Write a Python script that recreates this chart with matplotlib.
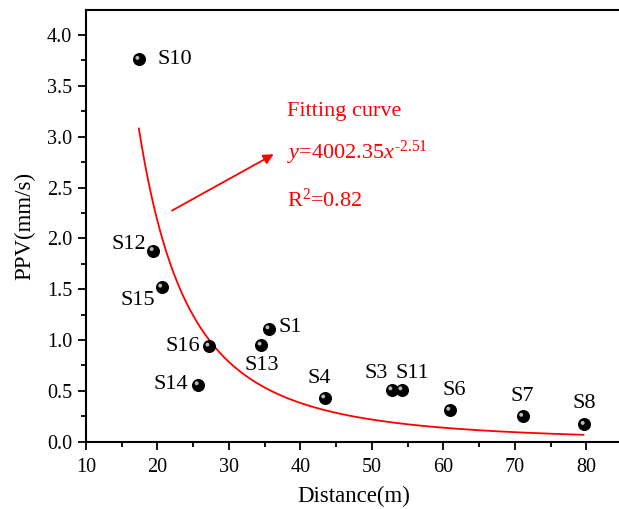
#!/usr/bin/env python3

import numpy as np
import matplotlib.pyplot as plt
import matplotlib.transforms as mtransforms
from matplotlib.ticker import MultipleLocator

plt.rcParams[ 'font.family' ] = 'Liberation Serif'
plt.rcParams[ 'mathtext.fontset' ] = 'custom'
plt.rcParams[ 'mathtext.rm' ] = 'Liberation Serif'
plt.rcParams[ 'mathtext.it' ] = 'Liberation Serif:italic'

# measuring points
names    = [ 'S10', 'S12', 'S15', 'S16', 'S14', 'S13', 'S1',
             'S4', 'S3', 'S11', 'S6', 'S7', 'S8' ]
distance = [ 17.4, 19.4, 20.6, 27.2, 25.7, 34.5, 35.6,
             43.4, 52.8, 54.2, 60.9, 71.1, 79.7 ]
ppv      = [ 3.76, 1.88, 1.52, 0.94, 0.56, 0.95, 1.11,
             0.43, 0.51, 0.51, 0.31, 0.25, 0.17 ]

# fitted power law  y = a * x^b
fitA = 4002.35
fitB = -2.51
fitR2 = 0.82
fitRange = ( 17.4, 79.6 )

# label offsets in pixels ( dx, dy, ha )
labOff = { 'S10' : (  19,   0, 'left'   ),
           'S12' : (  -7,   6, 'right'  ),
           'S15' : (  -7, -13, 'right'  ),
           'S16' : (  -9,   0, 'right'  ),
           'S14' : ( -10,   0, 'right'  ),
           'S13' : (   1, -20, 'center' ),
           'S1'  : (  10,   1, 'left'   ),
           'S4'  : (  -5,  19, 'center' ),
           'S3'  : ( -16,  16, 'center' ),
           'S11' : (  10,  16, 'center' ),
           'S6'  : (   4,  20, 'center' ),
           'S7'  : (   0,  20, 'center' ),
           'S8'  : (   0,  21, 'center' ) }

fig = plt.figure( figsize = ( 6.19, 5.09 ), dpi = 100 )
ax = fig.add_axes( [ 0.1389, 0.1322, 0.866, 0.848 ] )

xf = np.linspace( fitRange[0], fitRange[1], 300 )
ax.plot( xf, fitA * xf**fitB, color = 'red', lw = 1.3, zorder = 2 )

ax.scatter( distance, ppv, s = 70, color = 'black', zorder = 3 )
shift = mtransforms.ScaledTranslation( -1.5 / 100, 1.5 / 100, fig.dpi_scale_trans )
ax.scatter( distance, ppv, s = 8, color = '#bbbbbb', edgecolors = 'none',
            transform = ax.transData + shift, zorder = 4 )

for n, x, y in zip( names, distance, ppv ):
    dx, dy, ha = labOff[ n ]
    ax.annotate( n, ( x, y ), xytext = ( dx, dy ), textcoords = 'offset pixels',
                 ha = ha, va = 'center', fontsize = 16 )

ax.annotate( '', xy = ( 36.6, 2.84 ), xytext = ( 21.7, 2.26 ),
             arrowprops = dict( arrowstyle = '-|>', color = 'red', lw = 1.3,
                                mutation_scale = 15 ) )

ax.text( 38.1, 3.25, 'Fitting curve', color = 'red', fontsize = 16, va = 'center' )
ax.text( 38.1, 2.84, r'$y$=%.2f$x^{\text{%.2f}}$' % ( fitA, fitB ),
         color = 'red', fontsize = 16, va = 'center' )
ax.text( 38.1, 2.38, r'R$^{2}$=%.2f' % fitR2, color = 'red', fontsize = 16,
         va = 'center' )

ax.set_xlim( 10, 85 )
ax.set_ylim( 0, 4.245 )
ax.xaxis.set_major_locator( MultipleLocator( 10 ) )
ax.xaxis.set_minor_locator( MultipleLocator( 5 ) )
ax.yaxis.set_major_locator( MultipleLocator( 0.5 ) )
ax.yaxis.set_minor_locator( MultipleLocator( 0.25 ) )
ax.yaxis.set_major_formatter( '{x:.1f}' )
ax.tick_params( which = 'major', direction = 'out', length = 6, width = 1.3,
                labelsize = 14.5, pad = 4 )
ax.tick_params( axis = 'x', which = 'major', pad = 6 )
ax.tick_params( which = 'minor', direction = 'out', length = 3.5, width = 1.3 )
ax.tick_params( top = False, right = False )
ax.spines[ 'right' ].set_visible( False )
for s in [ 'left', 'bottom', 'top' ]:
    ax.spines[ s ].set_linewidth( 1.5 )

ax.set_xlabel( 'Distance(m)', fontsize = 16.5, labelpad = 6 )
ax.set_ylabel( 'PPV(mm/s)', fontsize = 16.5, labelpad = 8 )

plt.savefig( 'out.png', dpi = 100 )
plt.close()
